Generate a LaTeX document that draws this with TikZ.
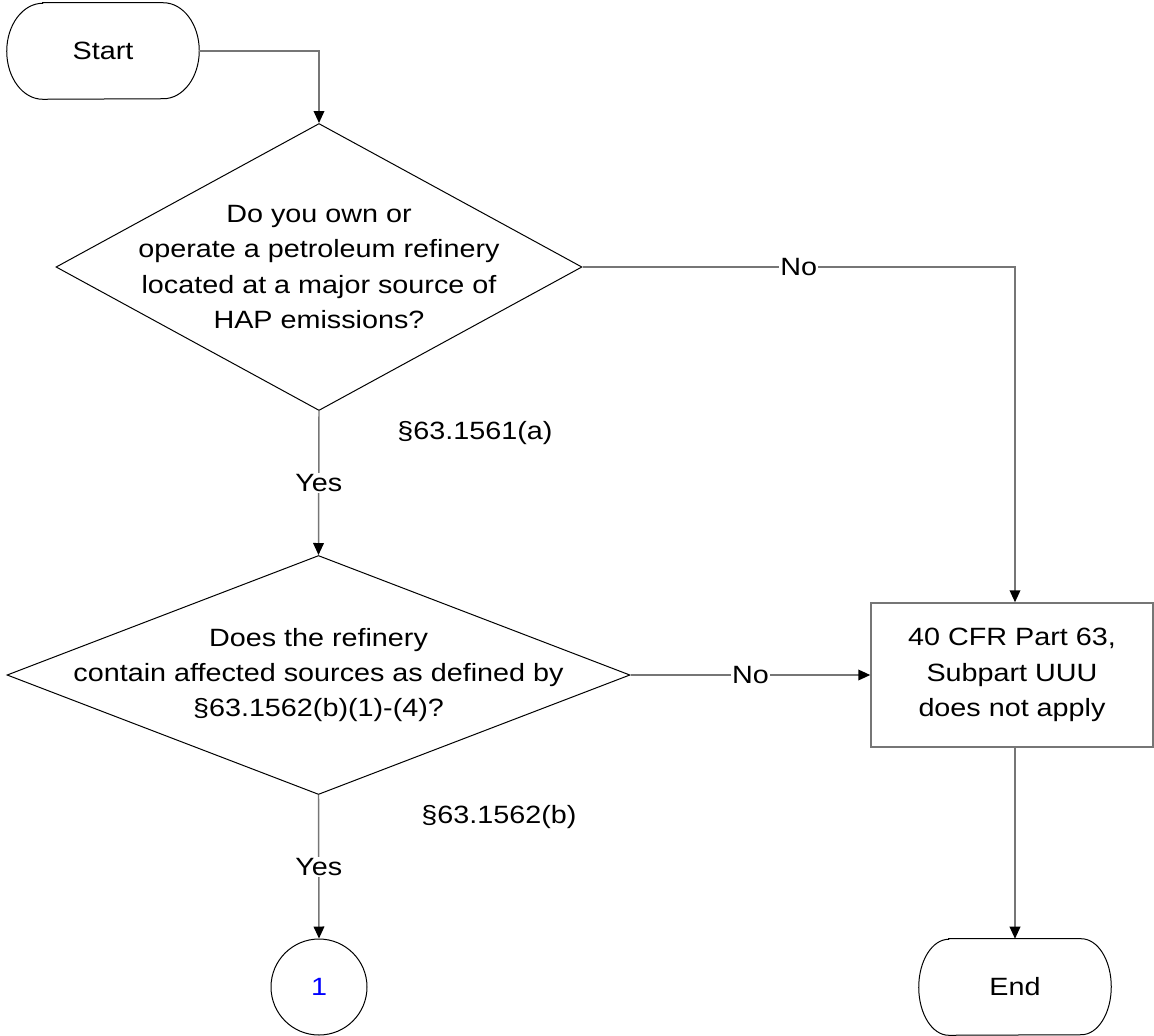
\documentclass[tikz,border=0pt]{standalone}
\usepackage{fontspec}
\setmainfont{Liberation Sans}[FakeStretch=1.15]
\usetikzlibrary{shapes.geometric,arrows.meta,calc}
\definecolor{conncol}{RGB}{118,118,118}
\begin{document}
\begin{tikzpicture}[x=0.75pt,y=0.75pt,
  every node/.style={font=\fontsize{18.75pt}{26.6pt}\selectfont},
  termbox/.style={rectangle, minimum width=144pt, minimum height=72pt, inner sep=0pt},
  termline/.style={draw=black, line width=0.75pt},
  dec/.style={diamond, draw=black, line width=0.75pt, inner sep=0pt},
  txt/.style={align=center, inner sep=0pt},
  proc/.style={rectangle, draw=conncol, line width=1.1pt, minimum width=211.5pt, minimum height=108pt, align=center, inner sep=0pt},
  wire/.style={draw=conncol, line width=1.1pt},
  arr/.style={wire, -{Triangle[length=9pt,width=8pt,color=black]}},
  lab/.style={fill=white, inner sep=1pt},
]
\useasboundingbox (0,0) rectangle (1154,-1036);
% terminals
\node[termbox] (start) at (103,-51) {Start};
\draw[termline] ($(start.north west)+(36,0)$) -- ($(start.north east)+(-36,0)$)
  arc[start angle=90, end angle=-90, x radius=27pt, y radius=36pt]
  -- ($(start.south west)+(36,0)$)
  arc[start angle=270, end angle=90, x radius=27pt, y radius=36pt] -- cycle;
\node[termbox] (endn) at (1015,-987) {End};
\draw[termline] ($(endn.north west)+(30,0)$) -- ($(endn.north east)+(-30,0)$)
  arc[start angle=90, end angle=-90, x radius=22.5pt, y radius=36pt]
  -- ($(endn.south west)+(30,0)$)
  arc[start angle=270, end angle=90, x radius=22.5pt, y radius=36pt] -- cycle;
% decisions
\node[dec, minimum width=394.5pt, minimum height=215.25pt] (d1) at (319,-267) {};
\node[txt] (d1t) at (d1.center) {Do you own or\\operate a petroleum refinery\\located at a major source of\\HAP emissions?};
\node[dec, minimum width=467.25pt, minimum height=179.25pt] (d2) at (318.5,-675) {};
\node[txt] (d2t) at (d2.center) {Does the refinery\\contain affected sources as defined by\\§63.1562(b)(1)-(4)?};
% process and connector
\node[proc] (box) at (1012,-675) {40 CFR Part 63,\\Subpart UUU\\does not apply};
\node[circle, draw=black, line width=0.75pt, minimum size=72pt, inner sep=0pt, text=blue] (c1) at (319,-987) {1};
% side notes
\node[txt] (s1) at (475,-433) {§63.1561(a)};
\node[txt] (s2) at (499,-817) {§63.1562(b)};
% connectors
\draw[arr] (start.east) -| (d1.north);
\draw[arr] (d1.east) -- node[lab]{No} (d1.east -| endn.north) -- (box.north -| endn.north);
\draw[arr] (d1.south) -- node[lab]{Yes} (d2.north);
\draw[arr] (d2.east) -- node[lab]{No} (box.west);
\draw[arr] (d2.south) -- node[lab]{Yes} (c1.north);
\draw[arr] (box.south -| endn.north) -- (endn.north);
\end{tikzpicture}
\end{document}
